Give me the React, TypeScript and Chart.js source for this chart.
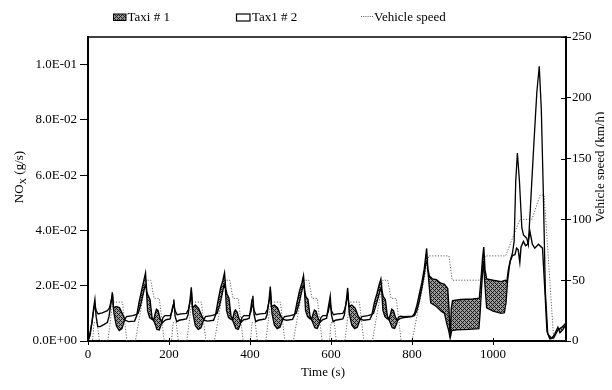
import React, { useEffect, useRef } from "react";
import { Chart, registerables } from "chart.js";

Chart.register(...registerables);

const FONT = "'Liberation Serif', 'Times New Roman', serif";

// Tick labels
const xTicks = [0, 200, 400, 600, 800, 1000];
const noxTicks = [0, 0.02, 0.04, 0.06, 0.08, 0.1];
const speedTicks = [0, 50, 100, 150, 200, 250];

// Taxi # 1 NOx (g/s)
const taxi1Time = [
  0, 5, 10, 14, 17, 20, 24, 30, 40, 48, 52, 57, 60, 63, 70, 78, 86, 92, 100, 115, 120, 126, 132, 138, 142, 145, 148, 153, 158, 162, 166, 169, 173, 178, 183, 190,
  195, 203, 207, 210, 212, 215, 219, 225, 235, 243, 247, 252, 255, 258, 265, 273, 281, 287, 295, 310, 315, 321, 327, 333, 337, 340, 343, 348, 353, 357, 361, 364, 368, 373, 378, 385,
  390, 398, 402, 405, 407, 410, 414, 420, 430, 438, 442, 447, 450, 453, 460, 468, 476, 482, 490, 505, 510, 516, 522, 528, 532, 535, 538, 543, 548, 552, 556, 559, 563, 568, 573, 580,
  581, 589, 593, 596, 598, 601, 605, 611, 621, 629, 633, 638, 641, 644, 651, 659, 667, 673, 681, 696, 701, 707, 713, 719, 723, 726, 729, 734, 739, 743, 747, 750, 754, 759, 764, 771,
  780, 800, 806, 812, 818, 824, 830, 836, 839, 843, 850, 860, 870, 880, 888, 891, 894, 897, 900, 920, 950, 966, 970, 974, 977, 980, 984, 1000, 1020, 1030, 1034, 1038, 1042, 1048, 1054, 1058, 1062, 1066, 1069, 1075, 1080, 1085, 1091, 1097, 1103, 1112, 1122, 1128, 1133, 1140, 1150, 1160, 1170, 1180,
];
const taxi1NOx = [
  0, 0.002, 0.007, 0.012, 0.015, 0.009, 0.0052, 0.0052, 0.006, 0.0068, 0.009, 0.014, 0.0176, 0.012, 0.0125, 0.012, 0.0095, 0.0075, 0.007, 0.0072, 0.009, 0.014, 0.018, 0.022, 0.0246, 0.018, 0.0165, 0.015, 0.0085, 0.0075, 0.01, 0.0115, 0.011, 0.008, 0.0065, 0.0075,
  0.0078, 0.008, 0.011, 0.013, 0.015, 0.009, 0.007, 0.0075, 0.0078, 0.008, 0.0095, 0.015, 0.0194, 0.012, 0.013, 0.0118, 0.009, 0.0075, 0.0072, 0.0075, 0.0095, 0.0145, 0.019, 0.022, 0.0246, 0.019, 0.017, 0.0155, 0.009, 0.0078, 0.0105, 0.0112, 0.0105, 0.008, 0.0068, 0.0078,
  0.0078, 0.0082, 0.012, 0.015, 0.0164, 0.0095, 0.007, 0.0075, 0.0078, 0.008, 0.0095, 0.015, 0.0197, 0.0125, 0.013, 0.012, 0.009, 0.0078, 0.0075, 0.0078, 0.0095, 0.014, 0.018, 0.021, 0.0236, 0.018, 0.016, 0.015, 0.009, 0.0078, 0.01, 0.0112, 0.0108, 0.0082, 0.0068, 0.0078,
  0.0078, 0.0082, 0.012, 0.0145, 0.0162, 0.0095, 0.007, 0.0075, 0.0078, 0.008, 0.0095, 0.015, 0.0192, 0.0125, 0.013, 0.012, 0.009, 0.0078, 0.0075, 0.0078, 0.0095, 0.014, 0.017, 0.0205, 0.0224, 0.018, 0.016, 0.015, 0.009, 0.0078, 0.01, 0.0115, 0.011, 0.0085, 0.0075, 0.0082,
  0.0085, 0.0088, 0.01, 0.013, 0.017, 0.021, 0.026, 0.0335, 0.026, 0.0235, 0.0225, 0.0222, 0.021, 0.0205, 0.019, 0.012, 0.0015, 0.012, 0.0146, 0.015, 0.0152, 0.0155, 0.022, 0.03, 0.034, 0.026, 0.0225, 0.022, 0.0215, 0.022, 0.0216, 0.026, 0.0288, 0.031, 0.0312, 0.0336, 0.033, 0.0285, 0.034, 0.036, 0.0345, 0.035, 0.0396, 0.035, 0.0336, 0.035, 0.0336, 0.018, 0.0035, 0.0008, 0.0012, 0.004, 0.005, 0.0065,
];

// Taxi # 2 NOx (g/s)
const taxi2Time = [
  0, 5, 10, 14, 17, 20, 25, 35, 48, 53, 58, 61, 64, 70, 77, 84, 90, 95, 110, 118, 124, 130, 136, 141, 144, 147, 152, 158, 162, 166, 170, 176, 181, 185, 190,
  195, 203, 207, 210, 212, 215, 220, 230, 243, 248, 253, 256, 259, 265, 272, 279, 285, 290, 305, 313, 319, 325, 331, 336, 339, 342, 347, 353, 357, 361, 365, 371, 376, 380, 385,
  390, 398, 402, 405, 407, 410, 415, 425, 438, 443, 448, 451, 454, 460, 467, 474, 480, 485, 500, 508, 514, 520, 526, 531, 534, 537, 542, 548, 552, 556, 560, 566, 571, 575, 580,
  581, 589, 593, 596, 598, 601, 606, 616, 629, 634, 639, 642, 645, 651, 658, 665, 671, 676, 691, 699, 705, 711, 717, 722, 725, 728, 733, 739, 743, 747, 751, 757, 762, 766, 771,
  780, 800, 806, 812, 818, 824, 830, 834, 837, 841, 846, 860, 872, 880, 886, 890, 894, 898, 910, 940, 965, 968, 972, 976, 980, 984, 1000, 1020, 1028, 1032, 1036, 1042, 1048, 1052, 1056, 1060, 1065, 1071, 1075, 1083, 1087, 1092, 1100, 1108, 1114, 1119, 1124, 1129, 1135, 1145, 1152, 1160, 1165, 1172, 1180,
];
const taxi2NOx = [
  0, 0.003, 0.007, 0.011, 0.013, 0.011, 0.0098, 0.0102, 0.011, 0.012, 0.015, 0.016, 0.01, 0.0055, 0.0038, 0.0045, 0.0075, 0.0088, 0.0092, 0.0095, 0.01, 0.013, 0.017, 0.02, 0.019, 0.011, 0.0085, 0.0078, 0.0075, 0.006, 0.0042, 0.004, 0.006, 0.0085, 0.0092,
  0.0092, 0.0092, 0.0105, 0.0125, 0.013, 0.011, 0.0095, 0.0098, 0.01, 0.0115, 0.015, 0.0165, 0.01, 0.0055, 0.0042, 0.0048, 0.0075, 0.0088, 0.0092, 0.0095, 0.01, 0.013, 0.017, 0.0205, 0.019, 0.011, 0.0085, 0.0078, 0.0075, 0.006, 0.0045, 0.0042, 0.006, 0.0085, 0.0092,
  0.0092, 0.0092, 0.0105, 0.0125, 0.0135, 0.011, 0.0095, 0.0098, 0.01, 0.0115, 0.015, 0.0168, 0.01, 0.0058, 0.0045, 0.005, 0.0075, 0.0088, 0.0092, 0.0095, 0.01, 0.013, 0.017, 0.02, 0.019, 0.011, 0.0088, 0.008, 0.0078, 0.0062, 0.0048, 0.0045, 0.0062, 0.0085, 0.0092,
  0.0092, 0.0092, 0.0105, 0.0125, 0.0135, 0.011, 0.0095, 0.0098, 0.01, 0.0115, 0.015, 0.0165, 0.01, 0.0058, 0.0045, 0.005, 0.0075, 0.0088, 0.0092, 0.0095, 0.01, 0.013, 0.016, 0.019, 0.018, 0.011, 0.0088, 0.008, 0.0078, 0.0062, 0.0048, 0.0045, 0.0062, 0.0085, 0.009,
  0.0088, 0.009, 0.0092, 0.011, 0.0145, 0.019, 0.024, 0.028, 0.029, 0.022, 0.0138, 0.0125, 0.0108, 0.01, 0.006, 0.004, 0.001, 0.0038, 0.004, 0.0042, 0.0045, 0.01, 0.02, 0.029, 0.02, 0.012, 0.0108, 0.01, 0.0102, 0.014, 0.022, 0.0288, 0.032, 0.036, 0.058, 0.068, 0.058, 0.041, 0.0384, 0.0372, 0.0348, 0.048, 0.0696, 0.09, 0.0994, 0.084, 0.054, 0.018, 0.0025, 0.001, 0.0025, 0.005, 0.003, 0.004, 0.006,
];

// Vehicle speed (km/h)
const speedTime = [
  0, 11, 15, 23, 28, 49, 61, 85, 96, 117, 143, 155, 163, 176, 188,
  195, 206, 210, 218, 223, 244, 256, 280, 291, 312, 338, 350, 358, 371, 383,
  390, 401, 405, 413, 418, 439, 451, 475, 486, 507, 533, 545, 553, 566, 578,
  585, 596, 600, 608, 613, 634, 646, 670, 681, 702, 728, 740, 748, 761, 773,
  780, 800, 841, 891, 899, 968, 981, 1031, 1066, 1096, 1116, 1126, 1150, 1180,
];
const speedKmh = [
  0, 0, 15, 15, 0, 0, 32, 32, 0, 0, 50, 50, 35, 35, 0,
  0, 0, 15, 15, 0, 0, 32, 32, 0, 0, 50, 50, 35, 35, 0,
  0, 0, 15, 15, 0, 0, 32, 32, 0, 0, 50, 50, 35, 35, 0,
  0, 0, 15, 15, 0, 0, 32, 32, 0, 0, 50, 50, 35, 35, 0,
  0, 0, 70, 70, 50, 50, 70, 70, 100, 100, 120, 120, 0, 0,
];

const legendLabels = ["Taxi # 1", "Tax1 # 2", "Vehicle speed"];

function fmtExp(v: number): string {
  if (v === 0) return "0.0E+00";
  const [m, e] = v.toExponential(1).split("e");
  const n = parseInt(e, 10);
  return m + "E" + (n < 0 ? "-" : "+") + String(Math.abs(n)).padStart(2, "0");
}

function makePattern(): CanvasPattern | string {
  const pc = document.createElement("canvas");
  pc.width = 4;
  pc.height = 4;
  const p = pc.getContext("2d");
  if (!p) return "#777";
  p.fillStyle = "#9a9a9a";
  p.fillRect(0, 0, 4, 4);
  p.fillStyle = "#1a1a1a";
  for (let x = 0; x < 4; x++) {
    for (let y = 0; y < 4; y++) {
      if ((x + y) % 4 === 0 || (x - y + 4) % 4 === 0) p.fillRect(x, y, 1, 1);
    }
  }
  const pat = p.createPattern(pc, "repeat");
  return pat || "#777";
}

export default function App() {
  const ref = useRef<HTMLCanvasElement>(null);

  useEffect(() => {
    const canvas = ref.current;
    if (!canvas) return;
    const hatch = makePattern();

    const decor = {
      id: "decor",
      afterDraw(chart: any) {
        const { ctx, chartArea: a, scales } = chart;
        ctx.save();
        ctx.strokeStyle = "#000";
        // top frame line
        ctx.lineWidth = 1.5;
        ctx.beginPath();
        ctx.moveTo(a.left - 1, a.top);
        ctx.lineTo(a.right + 1, a.top);
        ctx.stroke();
        // inward tick halves (right and bottom axes)
        ctx.lineWidth = 1;
        ctx.beginPath();
        const y1 = scales.y1;
        y1.ticks.forEach((t: any) => {
          const py = Math.round(y1.getPixelForValue(t.value)) + 0.5;
          ctx.moveTo(a.right - 5, py);
          ctx.lineTo(a.right, py);
        });
        const xs = scales.x;
        xs.ticks.forEach((t: any) => {
          const px = Math.round(xs.getPixelForValue(t.value)) + 0.5;
          ctx.moveTo(px, a.bottom - 3);
          ctx.lineTo(px, a.bottom);
        });
        ctx.stroke();

        // axis titles
        ctx.fillStyle = "#000";
        ctx.font = `13px ${FONT}`;
        ctx.textAlign = "center";
        ctx.textBaseline = "middle";
        ctx.fillText("Time (s)", (a.left + a.right) / 2 - 4, a.bottom + 32);

        ctx.save();
        ctx.translate(a.right + 35, a.top + 130);
        ctx.rotate(-Math.PI / 2);
        ctx.fillText("Vehicle speed (km/h)", 0, 0);
        ctx.restore();

        // left title with subscript
        ctx.save();
        ctx.translate(11, a.top + 140);
        ctx.rotate(-Math.PI / 2);
        ctx.textAlign = "left";
        ctx.textBaseline = "alphabetic";
        const big = `13px ${FONT}`;
        const small = `9px ${FONT}`;
        ctx.font = big;
        const w1 = ctx.measureText("NO").width;
        const w3 = ctx.measureText(" (g/s)").width;
        ctx.font = small;
        const w2 = ctx.measureText("X").width;
        let x0 = -(w1 + w2 + w3) / 2;
        ctx.font = big;
        ctx.fillText("NO", x0, 4);
        x0 += w1;
        ctx.font = small;
        ctx.fillText("X", x0, 7);
        x0 += w2;
        ctx.font = big;
        ctx.fillText(" (g/s)", x0, 4);
        ctx.restore();

        // legend
        ctx.font = `13px ${FONT}`;
        ctx.textAlign = "left";
        ctx.textBaseline = "alphabetic";
        ctx.fillStyle = hatch as any;
        ctx.fillRect(105, 6, 13, 6.5);
        ctx.lineWidth = 1;
        ctx.strokeStyle = "#000";
        ctx.strokeRect(105.5, 6, 12.5, 6.5);
        ctx.fillStyle = "#000";
        ctx.fillText(legendLabels[0], 119.5, 12.7);

        ctx.fillStyle = "#fff";
        ctx.fillRect(228, 6, 14, 7);
        ctx.lineWidth = 1.2;
        ctx.strokeRect(228.5, 6, 13.5, 7);
        ctx.fillStyle = "#000";
        ctx.fillText(legendLabels[1], 244, 12.7);

        ctx.save();
        ctx.strokeStyle = "#555";
        ctx.lineWidth = 1;
        ctx.setLineDash([1, 1.2]);
        ctx.beginPath();
        ctx.moveTo(353, 8.5);
        ctx.lineTo(365, 8.5);
        ctx.stroke();
        ctx.restore();
        ctx.fillText(legendLabels[2], 366, 12.7);

        ctx.restore();
      },
    };

    const tickFont = { family: FONT, size: 13 };

    const chart = new Chart(canvas, {
      type: "line",
      data: {
        datasets: [
          {
            label: legendLabels[0],
            data: taxi1Time.map((t, i) => ({ x: t, y: taxi1NOx[i] })),
            yAxisID: "y",
            borderColor: "#000",
            borderWidth: 1.4,
            pointRadius: 0,
            fill: { target: 1, above: hatch as any, below: "rgba(0,0,0,0)" },
            tension: 0,
          },
          {
            label: legendLabels[1],
            data: taxi2Time.map((t, i) => ({ x: t, y: taxi2NOx[i] })),
            yAxisID: "y",
            borderColor: "#000",
            borderWidth: 1.3,
            pointRadius: 0,
            fill: false,
            tension: 0,
          },
          {
            label: legendLabels[2],
            data: speedTime.map((t, i) => ({ x: t, y: speedKmh[i] })),
            yAxisID: "y1",
            borderColor: "#666",
            borderWidth: 1,
            borderDash: [1.2, 1.6],
            pointRadius: 0,
            fill: false,
            tension: 0,
          },
        ],
      },
      options: {
        animation: false,
        responsive: true,
        maintainAspectRatio: false,
        layout: { padding: { top: 29, left: 0, right: 0, bottom: 0 } },
        plugins: {
          legend: { display: false },
          tooltip: { enabled: false },
          filler: { drawTime: "beforeDatasetsDraw" },
        },
        scales: {
          x: {
            type: "linear",
            min: 0,
            max: 1180,
            afterBuildTicks: (s: any) => {
              s.ticks = xTicks.map((v) => ({ value: v }));
            },
            afterFit: (s: any) => {
              s.height = 41;
            },
            grid: { drawOnChartArea: false, drawTicks: true, tickLength: 4, color: "#000" },
            border: { display: true, color: "#000", width: 2 },
            ticks: { color: "#000", font: tickFont, padding: 2, maxRotation: 0, callback: (v: any) => String(v) },
          },
          y: {
            type: "linear",
            position: "left",
            min: 0,
            max: 0.11,
            afterBuildTicks: (s: any) => {
              s.ticks = noxTicks.map((v) => ({ value: v }));
            },
            afterFit: (s: any) => {
              s.width = 80;
            },
            grid: { drawOnChartArea: false, drawTicks: true, tickLength: 8, color: "#000" },
            border: { display: true, color: "#000", width: 2 },
            ticks: { color: "#000", font: tickFont, padding: 3, callback: (v: any) => fmtExp(Number(v)) },
          },
          y1: {
            type: "linear",
            position: "right",
            min: 0,
            max: 250,
            afterBuildTicks: (s: any) => {
              s.ticks = speedTicks.map((v) => ({ value: v }));
            },
            afterFit: (s: any) => {
              s.width = 46;
            },
            grid: { drawOnChartArea: false, drawTicks: true, tickLength: 5, color: "#000" },
            border: { display: true, color: "#000", width: 2 },
            ticks: { color: "#000", font: tickFont, padding: 1 },
          },
        },
      },
      plugins: [decor],
    });

    return () => chart.destroy();
  }, []);

  return (
    <div style={{ width: 604, height: 374, position: "relative" }}>
      <canvas ref={ref} />
    </div>
  );
}
